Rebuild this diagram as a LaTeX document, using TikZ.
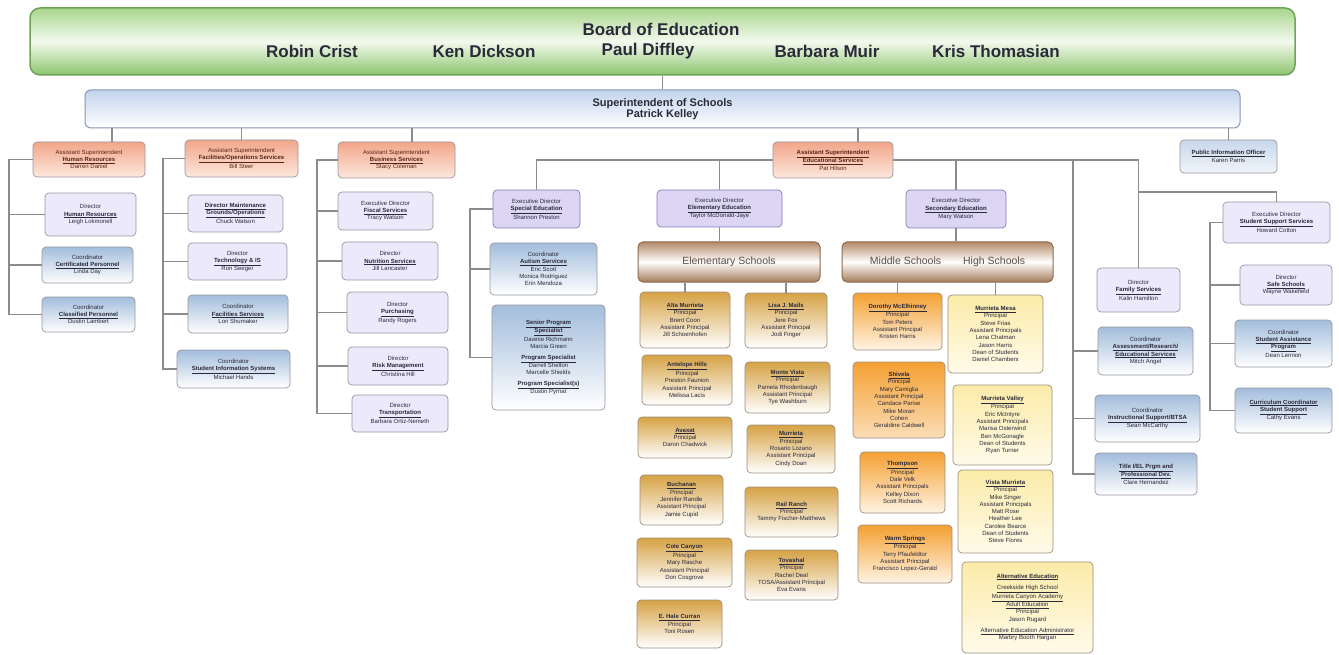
\documentclass[tikz,border=0pt]{standalone}
\usepackage{fontspec}
\setmainfont{Liberation Sans}

\definecolor{linkgray}{HTML}{8C8C8C}
\definecolor{boxedge}{HTML}{9A96A0}
\definecolor{textdark}{HTML}{2A2A3A}
\definecolor{boardEdge}{HTML}{6FA458}
\definecolor{boardTop}{HTML}{A9D58E}
\definecolor{boardMid}{HTML}{F3FAEE}
\definecolor{boardBot}{HTML}{8DC46E}
\definecolor{superEdge}{HTML}{8797B5}
\definecolor{superTop}{HTML}{C3D3EC}
\definecolor{asstTop}{HTML}{F2A68A}
\definecolor{asstBot}{HTML}{FDE8DE}
\definecolor{asstText}{HTML}{5A2414}
\definecolor{dirFill}{HTML}{ECE9FA}
\definecolor{execFill}{HTML}{DCD5F4}
\definecolor{execEdge}{HTML}{8878B8}
\definecolor{coordTop}{HTML}{A3BDDC}
\definecolor{schoolEdge}{HTML}{9C8E80}
\definecolor{elemTop}{HTML}{D6A244}
\definecolor{midTop}{HTML}{F4A032}
\definecolor{midBot}{HTML}{FFF4E4}
\definecolor{highTop}{HTML}{FBEBA8}
\definecolor{highBot}{HTML}{FFFBEA}
\definecolor{barEdge}{HTML}{8C6A50}
\definecolor{barTop}{HTML}{B48A68}
\definecolor{barBot}{HTML}{A47A58}
\definecolor{barText}{HTML}{5A5048}

\tikzset{
  box/.style={draw=boxedge, line width=0.7pt, rounded corners=4pt, align=center,
    inner sep=1pt, font=\fontsize{6}{7.3}\selectfont, text=textdark},
  asstbox/.style={box, top color=asstTop, bottom color=asstBot, text=asstText},
  dirbox/.style={box, fill=dirFill},
  execbox/.style={box, draw=execEdge, fill=execFill},
  coordbox/.style={box, top color=coordTop, bottom color=white},
  elembox/.style={box, draw=schoolEdge, top color=elemTop, bottom color=white},
  midbox/.style={box, draw=schoolEdge, top color=midTop, bottom color=midBot},
  highbox/.style={box, draw=schoolEdge, top color=highTop, bottom color=highBot},
  barbox/.style={draw=barEdge, line width=1pt, rounded corners=5pt, top color=barTop,
    bottom color=barBot, middle color=white, font=\fontsize{10.5}{12}\selectfont, text=barText},
  link/.style={draw=linkgray, line width=1.1pt},
  sz/.style 2 args={minimum width=#1, minimum height=#2}
}
\newcommand{\dpt}[1]{\textbf{\underline{#1}}}

\begin{document}
\begin{tikzpicture}[x=1pt,y=-1pt]
    \useasboundingbox (0,0) rectangle (1339,655);
    \fill[white] (0,0) rectangle (1339,655);

    \node[draw=boardEdge, line width=1.5pt, rounded corners=10pt, top color=boardTop,
      bottom color=boardBot, middle color=boardMid, sz={1265}{67}] (board) at (662.5,41.5) {};
    \node[font=\fontsize{17}{18}\selectfont\bfseries, text=textdark] (boardTitle) at (661,29) {Board of Education};
    \foreach \nm/\px [count=\i] in {Robin Crist/312,Ken Dickson/484,Paul Diffley/648,Barbara Muir/827,Kris Thomasian/996}
        \node[font=\fontsize{17}{18}\selectfont\bfseries, text=textdark] (member\i) at (\px,51) {\nm};

    \node[draw=superEdge, line width=1pt, rounded corners=6pt, top color=superTop, bottom color=white,
      sz={1155}{38}, align=center, font=\fontsize{11}{11.5}\selectfont\bfseries, text=textdark] (super) at (662.5,109)
      {Superintendent of Schools\\Patrick Kelley};

    \node[asstbox, sz={112}{35}] (hrA) at (89,159.5) {Assistant Superintendent\\\dpt{Human Resources}\\Darren Daniel};
    \node[dirbox, sz={91}{43}] (hrB) at (90.5,214.5) {Director\\\dpt{Human Resources}\\Leigh Lokmonell};
    \node[coordbox, sz={91}{36}] (hrC) at (87.5,265) {Coordinator\\\dpt{Certificated Personnel}\\Linda Day};
    \node[coordbox, sz={93}{35}] (hrD) at (88.5,314.5) {Coordinator\\\dpt{Classified Personnel}\\Dustin Lambert};

    \node[asstbox, sz={113}{37}] (faA) at (241.5,158.5) {Assistant Superintendent\\\dpt{Facilities/Operations Services}\\Bill Steer};
    \node[dirbox, sz={95}{37}] (faB) at (235.5,213.5) {\dpt{Director Maintenance}\\\dpt{Grounds/Operations}\\Chuck Watson};
    \node[dirbox, sz={99}{37}] (faC) at (237.5,261.5) {Director\\\dpt{Technology \& IS}\\Ron Seeger};
    \node[coordbox, sz={100}{38}] (faD) at (238,314) {Coordinator\\\dpt{Facilities Services}\\Lori Shumaker};
    \node[coordbox, sz={113}{38}] (faE) at (233.5,369) {Coordinator\\\dpt{Student Information Systems}\\Michael Hands};

    \node[asstbox, sz={117}{36}] (bsA) at (396.5,160) {Assistant Superintendent\\\dpt{Business Services}\\Stacy Coleman};
    \node[dirbox, sz={95}{38}] (bsB) at (385.5,211) {Executive Director\\\dpt{Fiscal Services}\\Tracy Watson};
    \node[dirbox, sz={96}{38}] (bsC) at (390,261) {Director\\\dpt{Nutrition Services}\\Jill Lancaster};
    \node[dirbox, sz={101}{41}] (bsD) at (397.5,312.5) {Director\\\dpt{Purchasing}\\Randy Rogers};
    \node[dirbox, sz={100}{38}] (bsE) at (398,366) {Director\\\dpt{Risk Management}\\Christina Hill};
    \node[dirbox, sz={96}{37}] (bsF) at (400,413.5) {Director\\\dpt{Transportation}\\Barbara Ortiz-Nemeth};

    \node[asstbox, sz={120}{36}] (edA) at (833,160) {\dpt{Assistant Superintendent}\\\dpt{Educational Services}\\Pat Hilson};

    \node[execbox, sz={87}{38}] (seA) at (536.5,209) {Executive Director\\\dpt{Special Education}\\Shannon Preston};
    \node[coordbox, sz={107}{52}] (seB) at (543.5,269) {Coordinator\\\dpt{Autism Services}\\Eric Scott\\Monica Rodriguez\\Erin Mendoza};
    \node[coordbox, sz={113}{105}] (seC) at (548.5,357.5) {\dpt{Senior Program}\\\dpt{Specialist}\\Dawnie Richmann\\Marcia Green\\[3pt]
      \dpt{Program Specialist}\\Darrell Shelton\\Marcelle Shields\\[3pt]\dpt{Program Specialist(s)}\\Dustin Pyrnat};

    \node[execbox, sz={125}{37}] (elA) at (719.5,208.5) {Executive Director\\\dpt{Elementary Education}\\Taylor McDonald-Jaye};
    \node[barbox, sz={182}{40}] (elBar) at (729,262) {Elementary Schools};
    \node[elembox, sz={90}{56}] (alta) at (685,320) {\dpt{Alta Murrieta}\\Principal\\Brent Coon\\Assistant Principal\\Jill Schoenhofen};
    \node[elembox, sz={90}{50}] (antelope) at (687,380) {\dpt{Antelope Hills}\\Principal\\Preston Faunion\\Assistant Principal\\Melissa Lacis};
    \node[elembox, sz={94}{41}] (avaxat) at (685,437.5) {\dpt{Avaxat}\\Principal\\Daron Chadwick};
    \node[elembox, sz={83}{50}] (buchanan) at (681.5,500) {\dpt{Buchanan}\\Principal\\Jennifer Randle\\Assistant Principal\\Jamie Cupid};
    \node[elembox, sz={95}{49}] (cole) at (684.5,562.5) {\dpt{Cole Canyon}\\Principal\\Mary Rasche\\Assistant Principal\\Don Cosgrove};
    \node[elembox, sz={85}{48}] (curran) at (679.5,624) {\dpt{E. Hale Curran}\\Principal\\Toni Rosen};
    \node[elembox, sz={82}{55}] (mails) at (786,320.5) {\dpt{Lisa J. Mails}\\Principal\\Jere Fox\\Assistant Principal\\Jodi Finger};
    \node[elembox, sz={85}{51}] (monte) at (787.5,387.5) {\dpt{Monte Vista}\\Principal\\Pamela Rhodenbaugh\\Assistant Principal\\Tye Washburn};
    \node[elembox, sz={88}{48}] (murrieta) at (791,449) {\dpt{Murrieta}\\Principal\\Rosario Lozano\\Assistant Principal\\Cindy Doan};
    \node[elembox, sz={93}{50}] (rail) at (791.5,512) {\dpt{Rail Ranch}\\Principal\\Tammy Fischer-Matthews};
    \node[elembox, sz={93}{50}] (tovashal) at (791.5,575) {\dpt{Tovashal}\\Principal\\Rachel Deal\\TOSA/Assistant Principal\\Eva Evans};

    \node[execbox, sz={100}{38}] (scA) at (956,209) {Executive Director\\\dpt{Secondary Education}\\Mary Watson};
    \node[barbox, sz={211}{40}] (scBar) at (947.5,262) {Middle Schools\hspace{22pt}High Schools};
    \node[midbox, sz={89}{57}] (mcel) at (897.5,321.5) {\dpt{Dorothy McElhinney}\\Principal\\Tom Peters\\Assistant Principal\\Kristen Harris};
    \node[midbox, top color=midTop, bottom color=midTop!35!white, sz={92}{76}] (shivela) at (899,400)
      {\dpt{Shivela}\\Principal\\Mary Camiglia\\Assistant Principal\\Candace Parise\\Mike Moran\\Cohen\\Geraldine Caldwell};
    \node[midbox, sz={85}{61}] (thompson) at (902.5,482.5) {\dpt{Thompson}\\Principal\\Dale Velk\\Assistant Principals\\Kelley Dixon\\Scott Richards};
    \node[midbox, sz={94}{58}] (warm) at (905,554) {\dpt{Warm Springs}\\Principal\\Terry Pfaufeldtor\\Assistant Principal\\Francisco Lopez-Gerald};
    \node[highbox, sz={95}{78}] (mesa) at (995.5,334) {\dpt{Murrieta Mesa}\\Principal\\Steve Frias\\Assistant Principals\\Lena Chatman\\Jason Harris\\Dean of Students\\Daniel Chambers};
    \node[highbox, sz={99}{80}] (valley) at (1002.5,425) {\dpt{Murrieta Valley}\\Principal\\Eric McIntyre\\Assistant Principals\\Marisa Osterwind\\Ben McGonagle\\Dean of Students\\Ryan Turner};
    \node[highbox, sz={95}{83}] (vista) at (1005.5,511.5) {\dpt{Vista Murrieta}\\Principal\\Mike Singer\\Assistant Principals\\Matt Rose\\Heather Lee\\Carolee Bearce\\Dean of Students\\Steve Flores};
    \node[highbox, sz={131}{91}] (alted) at (1027.5,607.5) {\dpt{Alternative Education}\\[4pt]\underline{Creekside High School}\\\underline{Murrieta Canyon Academy}\\\underline{Adult Education}\\Principal\\Jason Rugard\\[4pt]
      \underline{Alternative Education Administrator}\\Marbry Booth Hargan};

    \node[coordbox, top color=coordTop!60!white, bottom color=coordTop!15!white, sz={97}{33}] (pio) at (1228.5,156.5) {\dpt{Public Information Officer}\\Karen Parris};
    \node[dirbox, sz={83}{44}] (fam) at (1138.5,290) {Director\\\dpt{Family Services}\\Kalin Hamilton};
    \node[coordbox, sz={95}{48}] (asr) at (1145.5,351) {Coordinator\\\dpt{Assessment/Research/}\\\dpt{Educational Services}\\Mitch Angel};
    \node[coordbox, sz={105}{47}] (ins) at (1147.5,418.5) {Coordinator\\\dpt{Instructional Support/BTSA}\\Sean McCarthy};
    \node[coordbox, sz={102}{42}] (ttl) at (1146,474) {\dpt{Title I/EL Prgm and}\\\dpt{Professional Dev.}\\Clare Hernandez};
    \node[dirbox, sz={107}{41}] (ssA) at (1276.5,222.5) {Executive Director\\\dpt{Student Support Services}\\Howard Cotton};
    \node[dirbox, sz={92}{40}] (ssB) at (1286,285) {Director\\\dpt{Safe Schools}\\Wayne Wakefield};
    \node[coordbox, sz={97}{47}] (ssC) at (1283.5,343.5) {Coordinator\\\dpt{Student Assistance}\\\dpt{Program}\\Dean Lennon};
    \node[coordbox, sz={97}{45}] (ssD) at (1283.5,410.5) {\dpt{Curriculum Coordinator}\\\dpt{Student Support}\\Cathy Evans};

    \coordinate (dHR) at (112,0);
    \coordinate (dBS) at (412,0);
    \coordinate (dED) at (858,0);
    \coordinate (hrBus) at (9,0);
    \coordinate (faBus) at (163,0);
    \coordinate (bsBus) at (317,0);
    \coordinate (seBus) at (470,0);
    \coordinate (edBus) at (1073,0);
    \coordinate (ssBus) at (1210,0);
    \coordinate (ssJoin) at (1142,192);

    \draw[link] (board.south) -- (super.north);
    \draw[link] (super.south -| dHR) -- (hrA.north -| dHR);
    \draw[link] (super.south -| faA.north) -- (faA.north);
    \draw[link] (super.south -| dBS) -- (bsA.north -| dBS);
    \draw[link] (super.south -| dED) -- (edA.north -| dED);
    \draw[link] (super.south -| pio.north) -- (pio.north);

    \draw[link] (hrA.west) -| (hrBus |- hrD.west) -- (hrD.west);
    \foreach \n in {hrB,hrC}
        \draw[link] (hrBus |- \n.west) -- (\n.west);
    \draw[link] (faA.west) -| (faBus |- faE.west) -- (faE.west);
    \foreach \n in {faB,faC,faD}
        \draw[link] (faBus |- \n.west) -- (\n.west);
    \draw[link] (bsA.west) -| (bsBus |- bsF.west) -- (bsF.west);
    \foreach \n in {bsB,bsC,bsD,bsE}
        \draw[link] (bsBus |- \n.west) -- (\n.west);

    \draw[link] (edA.west) -| (seA.north);
    \draw[link] (edA.east) -| (fam.north);
    \draw[link] (edA.west -| elA.north) -- (elA.north);
    \draw[link] (edA.east -| scA.north) -- (scA.north);
    \draw[link] (edA.east -| edBus) |- (ttl.west);
    \foreach \n in {asr,ins}
        \draw[link] (edBus |- \n.west) -- (\n.west);
    \draw[link] (seA.west) -| (seBus |- seC.west) -- (seC.west);
    \draw[link] (seBus |- seB.west) -- (seB.west);

    \draw[link] (elA.south) -- (elA.south |- elBar.north);
    \draw[link] (elBar.south -| alta.north) -- (alta.north);
    \draw[link] (elBar.south -| mails.north) -- (mails.north);
    \draw[link] (scA.south) -- (scA.south |- scBar.north);
    \draw[link] (scBar.south -| mcel.north) -- (mcel.north);
    \draw[link] (scBar.south -| mesa.north) -- (mesa.north);

    \draw[link] (fam.north |- ssJoin) -| (ssA.north);
    \draw[link] (ssA.west) -| (ssBus |- ssD.west) -- (ssD.west);
    \foreach \n in {ssB,ssC}
        \draw[link] (ssBus |- \n.west) -- (\n.west);
\end{tikzpicture}
\end{document}
